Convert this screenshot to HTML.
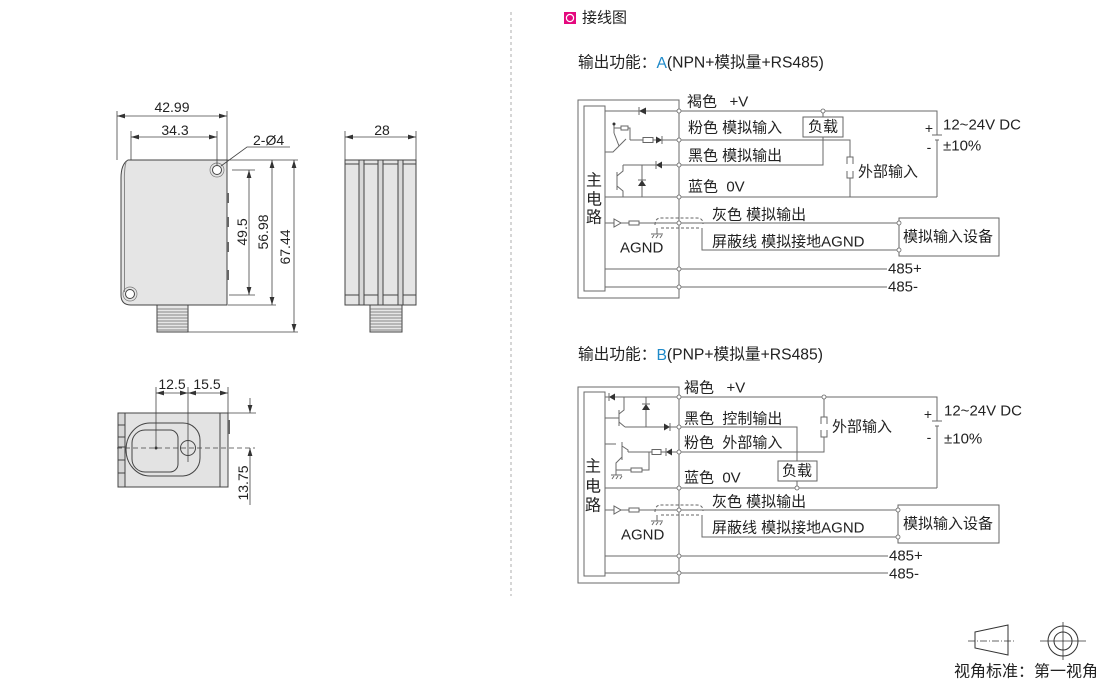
<!DOCTYPE html>
<html><head><meta charset="utf-8">
<style>
html,body{margin:0;padding:0;background:#fff;}
svg{display:block;}
text{font-family:"Liberation Sans","Noto Sans CJK SC",sans-serif;fill:#222;}
.w{stroke:#6a6a6a;stroke-width:1;fill:none;}
.d{stroke:#444;stroke-width:0.8;fill:none;}
.o{stroke:#444;stroke-width:1;fill:none;}
.j{fill:#fff;stroke:#666;stroke-width:0.8;}
.k{fill:#333;}
.sp{white-space:pre;}
</style></head><body>
<svg width="1110" height="683" viewBox="0 0 1110 683" xmlns="http://www.w3.org/2000/svg">
<defs>
<marker id="ar" viewBox="0 0 10 6" refX="10" refY="3" markerWidth="8" markerHeight="5" markerUnits="userSpaceOnUse" orient="auto-start-reverse"><path d="M0,0 L10,3 L0,6 Z" fill="#333"/></marker>
</defs>

<!-- ============ FRONT VIEW ============ -->
<path d="M128,160 H227 V305 H131 Q121,305 121,295 V178 Q121,164 128,160 Z" fill="#e5e5e5" stroke="#444"/>
<path d="M126,162 Q124,170 124.5,182 V292" stroke="#888" fill="none"/>
<circle cx="217" cy="170" r="7" fill="none" stroke="#777" stroke-width="0.7"/>
<circle cx="217" cy="170" r="4.5" fill="#fff" stroke="#444"/>
<circle cx="130" cy="294" r="7" fill="none" stroke="#777" stroke-width="0.7"/>
<circle cx="130" cy="294" r="4.5" fill="#fff" stroke="#444"/>
<rect x="227" y="193" width="2" height="10" fill="#666"/>
<rect x="227" y="217" width="2" height="10" fill="#666"/>
<rect x="227" y="242" width="2" height="10" fill="#666"/>
<rect x="227" y="270" width="2" height="10" fill="#666"/>
<rect x="157" y="305" width="31" height="27" fill="#e6e6e6" stroke="#444"/>
<path d="M157,309H188M157,312H188M157,315H188M157,318H188M157,321H188M157,324H188M157,327H188M157,330H188" stroke="#666" stroke-width="0.7"/>

<!-- dims front -->
<path class="d" d="M117,111V160M227,111V160M131,131V160M217,131V165"/>
<line class="d" x1="117" y1="116" x2="227" y2="116" marker-start="url(#ar)" marker-end="url(#ar)"/>
<line class="d" x1="131" y1="137" x2="217" y2="137" marker-start="url(#ar)" marker-end="url(#ar)"/>
<text x="172" y="107" font-size="14" text-anchor="middle" dominant-baseline="central">42.99</text>
<text x="175" y="130" font-size="14" text-anchor="middle" dominant-baseline="central">34.3</text>
<path class="d" d="M221,166 L247,147 H290"/>
<text x="253" y="140" font-size="14" dominant-baseline="central">2-Ø4</text>
<path class="d" d="M232,170H255M229,295H255M227,160H298M228,305H276M188,332H298"/>
<line class="d" x1="249" y1="170" x2="249" y2="295" marker-start="url(#ar)" marker-end="url(#ar)"/>
<line class="d" x1="272" y1="160" x2="272" y2="305" marker-start="url(#ar)" marker-end="url(#ar)"/>
<line class="d" x1="294" y1="160" x2="294" y2="332" marker-start="url(#ar)" marker-end="url(#ar)"/>
<text transform="translate(242,232) rotate(-90)" font-size="14" text-anchor="middle" dominant-baseline="central">49.5</text>
<text transform="translate(263,232) rotate(-90)" font-size="14" text-anchor="middle" dominant-baseline="central">56.98</text>
<text transform="translate(285,247) rotate(-90)" font-size="14" text-anchor="middle" dominant-baseline="central">67.44</text>

<!-- ============ SIDE VIEW ============ -->
<rect x="345" y="160" width="71" height="145" fill="#e5e5e5" stroke="#444"/>
<path class="o" d="M345,164H416M345,295H416"/>
<rect x="359" y="160" width="5" height="145" fill="#d8d8d8" stroke="#444"/>
<rect x="378" y="160" width="5" height="145" fill="#d8d8d8" stroke="#444"/>
<rect x="398" y="160" width="5" height="145" fill="#d8d8d8" stroke="#444"/>
<rect x="370" y="305" width="32" height="27" fill="#e6e6e6" stroke="#444"/>
<path d="M370,309H402M370,312H402M370,315H402M370,318H402M370,321H402M370,324H402M370,327H402M370,330H402" stroke="#666" stroke-width="0.7"/>
<path class="d" d="M345,131V160M416,131V160"/>
<line class="d" x1="345" y1="137" x2="416" y2="137" marker-start="url(#ar)" marker-end="url(#ar)"/>
<text x="382" y="130" font-size="14" text-anchor="middle" dominant-baseline="central">28</text>

<!-- ============ BOTTOM VIEW ============ -->
<rect x="118" y="413" width="110" height="74" fill="#e3e3e3" stroke="#444"/>
<rect x="118" y="413" width="7" height="74" fill="#d6d6d6" stroke="#444"/>
<path class="o" d="M118,425H125M118,437H125M118,447H125M118,460H125M118,473H125M220,413V487"/>
<rect x="228" y="420" width="2" height="14" fill="#666"/>
<path d="M150,423 H183 A17,17 0 0 1 200,440 V458 A18,18 0 0 1 183,476 H150 A24,26.5 0 0 1 150,423 Z" fill="none" stroke="#444"/>
<path d="M145,430 H170 A8,8 0 0 1 178,438 V464 A8,8 0 0 1 170,472 H145 A13,13 0 0 1 132,459 V443 A13,13 0 0 1 145,430 Z" fill="none" stroke="#444"/>
<circle cx="188" cy="448" r="7.5" fill="none" stroke="#444"/>
<circle cx="156" cy="448" r="1.5" class="k"/>
<line x1="117" y1="448" x2="255" y2="448" stroke="#444" stroke-width="0.8" stroke-dasharray="5,3"/>
<path class="d" d="M156,387V448M188,387V462M228,387V413M228,413H256"/>
<line class="d" x1="156" y1="393" x2="188" y2="393" marker-start="url(#ar)" marker-end="url(#ar)"/>
<line class="d" x1="188" y1="393" x2="228" y2="393" marker-start="url(#ar)" marker-end="url(#ar)"/>
<text x="172" y="384" font-size="14" text-anchor="middle" dominant-baseline="central">12.5</text>
<text x="207" y="384" font-size="14" text-anchor="middle" dominant-baseline="central">15.5</text>
<line class="d" x1="250" y1="398" x2="250" y2="413" marker-end="url(#ar)"/>
<line class="d" x1="250" y1="505" x2="250" y2="448" marker-end="url(#ar)"/>
<text transform="translate(243,483) rotate(-90)" font-size="14" text-anchor="middle" dominant-baseline="central">13.75</text>

<!-- separator -->
<line x1="511" y1="12" x2="511" y2="596" stroke="#999" stroke-width="0.8" stroke-dasharray="3,3"/>

<!-- ============ HEADER ============ -->
<rect x="564" y="12" width="12" height="12" fill="#e4087e"/>
<circle cx="570" cy="18" r="3.6" fill="none" stroke="#fff" stroke-width="1.2"/>
<text x="582" y="18" font-size="15" dominant-baseline="central">接线图</text>
<text x="578" y="63" font-size="15.7" dominant-baseline="central">输出功能：<tspan fill="#1f8ac9">A</tspan>(NPN+模拟量+RS485)</text>
<text x="578" y="355" font-size="15.7" dominant-baseline="central">输出功能：<tspan fill="#1f8ac9">B</tspan>(PNP+模拟量+RS485)</text>

<!-- ============ WIRING A ============ -->
<rect x="578" y="100" width="101" height="198" class="w"/>
<rect x="584" y="106" width="21" height="185" class="w"/>
<text x="594" y="181" font-size="16" text-anchor="middle" dominant-baseline="central">主</text>
<text x="594" y="200" font-size="16" text-anchor="middle" dominant-baseline="central">电</text>
<text x="594" y="218" font-size="16" text-anchor="middle" dominant-baseline="central">路</text>
<path class="w" d="M605,111H937V135M937,140V197M605,197H937M630,140H850V157M850,178V197M623,165H823V137M823,117V111M605,223H899M702,228V250H899M605,269H887M605,287H887"/>
<path class="w" d="M932,135H942M935,140H939"/>
<path class="w" d="M847,164V157H853V164M847,171V178H853V171"/>
<rect x="803" y="117" width="40" height="20" fill="#fff" stroke="#666"/>
<text x="823" y="127" font-size="15" text-anchor="middle" dominant-baseline="central">负载</text>
<!-- internals A -->
<polygon points="639,111 646,107.5 646,114.5" class="k"/><path class="w" d="M639,107V115"/>
<path class="w" d="M614,128H630V140M614,124V133M605,152H613L626,139M614,133L619,146"/>
<rect x="621" y="126" width="7" height="4" fill="#fff" stroke="#666"/>
<circle cx="614" cy="124" r="1.5" class="k"/>
<rect x="643" y="137.5" width="10" height="5" fill="#fff" stroke="#666"/>
<polygon points="656,136.5 656,143.5 662,140" class="k"/><path class="w" d="M662,136V144"/>
<polygon points="656,165 662,161.5 662,168.5" class="k"/><path class="w" d="M656,161V169"/>
<path class="w" d="M642,165V197"/>
<polygon points="638,186 646,186 642,180" class="k"/><path class="w" d="M638,180H646"/>
<path class="w" d="M617,172V190M617,176L623,171V165M617,186L623,191V197"/>
<polygon points="614,219 614,227 621,223" fill="#fff" stroke="#666"/>
<rect x="629" y="221" width="10" height="4" fill="#fff" stroke="#666"/>
<path d="M655,225Q655,218 661,218H697Q703,218 703,224M661,228H701" fill="none" stroke="#666" stroke-dasharray="3,2"/>
<path class="w" d="M657,228V234M651,234H663M652,238L654,235M656,238L658,235M660,238L662,235"/>
<path class="w" d="M679,100V298"/>
<text x="620" y="248" font-size="15" dominant-baseline="central">AGND</text>
<g class="j">
<circle cx="679" cy="111" r="2"/><circle cx="679" cy="140" r="2"/><circle cx="679" cy="165" r="2"/><circle cx="679" cy="197" r="2"/><circle cx="679" cy="223" r="2"/><circle cx="679" cy="269" r="2"/><circle cx="679" cy="287" r="2"/><circle cx="823" cy="111" r="2"/>
</g>
<rect x="899" y="218" width="100" height="38" fill="#fff" stroke="#666"/>
<circle cx="899" cy="223" r="2" class="j"/><circle cx="899" cy="250" r="2" class="j"/>
<text x="687" y="102" font-size="15" dominant-baseline="central" class="sp">褐色   +V</text>
<text x="688" y="128" font-size="15" dominant-baseline="central">粉色 模拟输入</text>
<text x="688" y="156" font-size="15" dominant-baseline="central">黑色 模拟输出</text>
<text x="688" y="187" font-size="15" dominant-baseline="central" class="sp">蓝色  0V</text>
<text x="712" y="215" font-size="15" dominant-baseline="central">灰色 模拟输出</text>
<text x="712" y="242" font-size="15" dominant-baseline="central">屏蔽线 模拟接地AGND</text>
<text x="903" y="237" font-size="15" dominant-baseline="central">模拟输入设备</text>
<text x="888" y="269" font-size="15" dominant-baseline="central">485+</text>
<text x="888" y="287" font-size="15" dominant-baseline="central">485-</text>
<text x="858" y="172" font-size="15" dominant-baseline="central">外部输入</text>
<text x="929" y="128" font-size="14" text-anchor="middle" dominant-baseline="central">+</text>
<text x="929" y="147" font-size="14" text-anchor="middle" dominant-baseline="central">-</text>
<text x="943" y="125" font-size="15" dominant-baseline="central">12~24V DC</text>
<text x="943" y="146" font-size="15" dominant-baseline="central">±10%</text>

<!-- ============ WIRING B ============ -->
<rect x="578" y="387" width="101" height="196" class="w"/>
<rect x="584" y="392" width="21" height="184" class="w"/>
<text x="593" y="467" font-size="16" text-anchor="middle" dominant-baseline="central">主</text>
<text x="593" y="487" font-size="16" text-anchor="middle" dominant-baseline="central">电</text>
<text x="593" y="506" font-size="16" text-anchor="middle" dominant-baseline="central">路</text>
<path class="w" d="M605,397H937V421M937,426V488M605,488H937M625,427H797V461M797,481V488M628,452H824V437M824,417V397M605,510H898M702,515V537H898M605,556H888M605,573H888"/>
<path class="w" d="M932,421H942M935,426H939"/>
<path class="w" d="M821,424V417H827V424M821,430V437H827V430"/>
<rect x="778" y="461" width="39" height="20" fill="#fff" stroke="#666"/>
<text x="797" y="471" font-size="15" text-anchor="middle" dominant-baseline="central">负载</text>
<!-- internals B -->
<polygon points="609,397 615,393.5 615,400.5" class="k"/><path class="w" d="M609,393V401"/>
<path class="w" d="M605,418H619M619,410V426M619,414L624,410V397M619,422L625,427"/>
<path class="w" d="M646,397V427"/>
<polygon points="642,410 650,410 646,404" class="k"/><path class="w" d="M642,404H650"/>
<polygon points="664,423.5 664,430.5 670,427" class="k"/><path class="w" d="M670,423V431"/>
<path class="w" d="M605,444H616M622,442V460M622,446L628,450V452M622,457L616,463V475M611,475H622M612,479L614,476M616,479L618,476M620,479L622,476M616,470H649V452"/>
<rect x="631" y="468" width="11" height="4" fill="#fff" stroke="#666"/>
<rect x="652" y="449.5" width="9" height="5" fill="#fff" stroke="#666"/>
<polygon points="666,452 672,448.5 672,455.5" class="k"/><path class="w" d="M666,448V456"/>
<polygon points="614,506 614,514 621,510" fill="#fff" stroke="#666"/>
<rect x="629" y="508" width="10" height="4" fill="#fff" stroke="#666"/>
<path d="M655,512Q655,505 661,505H697Q703,505 703,511M661,515H701" fill="none" stroke="#666" stroke-dasharray="3,2"/>
<path class="w" d="M657,515V521M651,521H663M652,525L654,522M656,525L658,522M660,525L662,522"/>
<path class="w" d="M679,387V583"/>
<text x="621" y="535" font-size="15" dominant-baseline="central">AGND</text>
<g class="j">
<circle cx="679" cy="397" r="2"/><circle cx="679" cy="427" r="2"/><circle cx="679" cy="452" r="2"/><circle cx="679" cy="488" r="2"/><circle cx="679" cy="510" r="2"/><circle cx="679" cy="556" r="2"/><circle cx="679" cy="573" r="2"/><circle cx="824" cy="397" r="2"/><circle cx="797" cy="488" r="2"/>
</g>
<rect x="898" y="505" width="101" height="38" fill="#fff" stroke="#666"/>
<circle cx="898" cy="510" r="2" class="j"/><circle cx="898" cy="537" r="2" class="j"/>
<text x="684" y="388" font-size="15" dominant-baseline="central" class="sp">褐色   +V</text>
<text x="684" y="419" font-size="15" dominant-baseline="central" class="sp">黑色  控制输出</text>
<text x="684" y="443" font-size="15" dominant-baseline="central" class="sp">粉色  外部输入</text>
<text x="684" y="478" font-size="15" dominant-baseline="central" class="sp">蓝色  0V</text>
<text x="712" y="502" font-size="15" dominant-baseline="central">灰色 模拟输出</text>
<text x="712" y="528" font-size="15" dominant-baseline="central">屏蔽线 模拟接地AGND</text>
<text x="903" y="524" font-size="15" dominant-baseline="central">模拟输入设备</text>
<text x="889" y="556" font-size="15" dominant-baseline="central">485+</text>
<text x="889" y="574" font-size="15" dominant-baseline="central">485-</text>
<text x="832" y="427" font-size="15" dominant-baseline="central">外部输入</text>
<text x="928" y="414" font-size="14" text-anchor="middle" dominant-baseline="central">+</text>
<text x="929" y="437" font-size="14" text-anchor="middle" dominant-baseline="central">-</text>
<text x="944" y="411" font-size="15" dominant-baseline="central">12~24V DC</text>
<text x="944" y="439" font-size="15" dominant-baseline="central">±10%</text>

<!-- ============ VIEW SYMBOL ============ -->
<polygon points="975,632 1008,625 1008,655 975,648" fill="none" stroke="#333"/>
<line x1="968" y1="641" x2="1014" y2="641" stroke="#333" stroke-width="0.8" stroke-dasharray="7,2,1,2"/>
<circle cx="1063" cy="641" r="15" fill="none" stroke="#333"/>
<circle cx="1063" cy="641" r="9" fill="none" stroke="#333"/>
<path d="M1040,641H1086M1063,622V660" stroke="#333" stroke-width="0.8"/>
<text x="954" y="672" font-size="16" dominant-baseline="central">视角标准：第一视角</text>
</svg>
</body></html>
